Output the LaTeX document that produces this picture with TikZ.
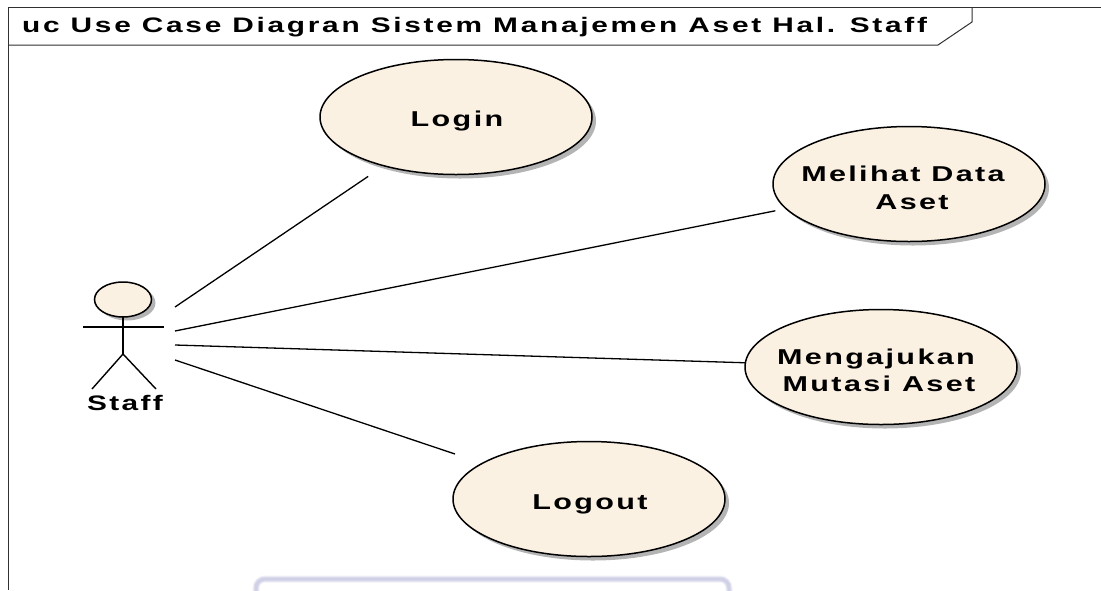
\documentclass[tikz,border=0pt]{standalone}
\usepackage{fontspec}
\setmainfont{Liberation Sans}[FakeStretch=1.42,LetterSpace=11]
\definecolor{ucfill}{HTML}{FBF1E3}
\definecolor{ucshadow}{HTML}{B4B4B4}
\definecolor{noteblue}{HTML}{C6C6E2}
\definecolor{framegrey}{HTML}{303030}
% #1 = text shift right, #2 = text shift down, #3 = text
\newcommand{\ucline}[3]{\raisebox{-#2}[\height][\depth]{\makebox[0pt]{\hspace*{#1}\hspace*{#1}#3}}}
\tikzset{
  x=1pt,y=-1pt,
  usecase/.style={ellipse,draw=black,line width=1.5pt,fill=ucfill,inner sep=0pt,outer sep=0pt,minimum width=272pt,minimum height=115pt,align=center,font=\fontsize{21.5}{27.5}\selectfont\bfseries},
  ucshade/.style={ellipse,fill=ucshadow,inner sep=0pt,minimum width=272pt,minimum height=115pt},
  assoc/.style={draw=black,line width=1.3pt},
  framed/.style={draw=framegrey,line width=1pt},
  stick/.style={draw=black,line width=1.4pt},
}
\usetikzlibrary{shapes.geometric}
\begin{document}
\begin{tikzpicture}
\useasboundingbox (0,0) rectangle (1101,590);
% frame
\begin{scope}
\clip (0,0) rectangle (1101,590);
\draw[framed] (1101,7) -- (8.5,7) -- (8.5,590);
\draw[framed] (8.5,45) -- (938,45) -- (972,22) -- (972,7);
\node[anchor=west,inner sep=0pt,font=\fontsize{21}{25}\selectfont\bfseries\addfontfeature{LetterSpace=13}] (title) at (22,27) {uc Use Case Diagran Sistem Manajemen Aset Hal. Staff};
% faint box at the bottom
\foreach \w/\o in {7/.25,5/.4,3/.6}{
  \draw[noteblue,line width=\w pt,opacity=\o,rounded corners=9pt] (256,600) -- (256,579) -- (729,579) -- (729,600);
}
% shadows
\node[ucshade] at (460,121) {};
\node[ucshade] at (913,188) {};
\node[ucshade] at (885,371) {};
\node[ucshade] at (593,503) {};
\node[ellipse,fill=ucshadow,minimum width=57pt,minimum height=35pt,inner sep=0pt] at (127,303) {};
% use cases
\node[usecase] (login) at (456,117) {\ucline{1pt}{4pt}{Login}};
\node[usecase] (melihat) at (909,184) {\ucline{-6pt}{4pt}{Melihat Data}\\\ucline{3pt}{4pt}{Aset}};
\node[usecase] (mengajukan) at (881,367) {\ucline{-5pt}{3.5pt}{Mengajukan}\\\ucline{-2pt}{3.5pt}{Mutasi Aset}};
\node[usecase] (logout) at (589,499) {\ucline{1pt}{5pt}{Logout}};
% actor
\node[ellipse,draw=black,line width=1.5pt,fill=ucfill,minimum width=57pt,minimum height=35pt,inner sep=0pt,outer sep=0pt] (head) at (123,299.5) {};
\coordinate (hip) at (123,354);
\coordinate (armL) at (83,327);
\coordinate (armR) at (164,327);
\coordinate (footL) at (92,389);
\coordinate (footR) at (156,389);
\draw[stick] (head.south) -- (hip);
\draw[stick] (armL) -- (armR);
\draw[stick] (footL) -- (hip) -- (footR);
\node[inner sep=0pt,font=\fontsize{21}{25}\selectfont\bfseries] (staff) at (125,403) {Staff};
% associations
\coordinate (s1) at (175,307);
\coordinate (s2) at (175,331);
\coordinate (s3) at (175,345);
\coordinate (s4) at (175,360);
\draw[assoc,shorten >=19pt] (s1) -- (login);
\draw[assoc,shorten >=11pt] (s2) -- (melihat);
\draw[assoc] (s3) -- (mengajukan);
\draw[assoc,shorten >=29pt] (s4) -- (logout);
\end{scope}
\end{tikzpicture}
\end{document}
